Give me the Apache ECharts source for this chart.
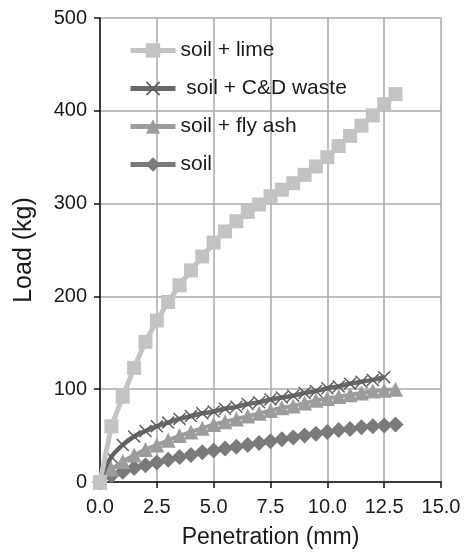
<!DOCTYPE html>
<html>
<head>
<meta charset="utf-8">
<script src="https://cdn.jsdelivr.net/npm/echarts@6/dist/echarts.min.js"></script>
<style>
html,body{margin:0;padding:0;background:#fff;}
#c{width:465px;height:554px;}
</style>
</head>
<body>
<div id="c"></div>
<script>
// Penetration (mm) sample points
const penetration = [0,0.5,1,1.5,2,2.5,3,3.5,4,4.5,5,5.5,6,6.5,7,7.5,8,8.5,9,9.5,10,10.5,11,11.5,12,12.5,13];
const penetrationCD = [0,0.5,1,1.5,2,2.5,3,3.5,4,4.5,5,5.5,6,6.5,7,7.5,8,8.5,9,9.5,10,10.5,11,11.5,12,12.5];
// Loads (kg)
const soilLime = [0,60,92,123,151,174,194,212,228,243,258,270,281,291,299,308,315,322,331,340,350,362,373,384,395,407,418];
const soilCD   = [0,27,40,49,55,60,64,68,71,74,76,79,81,84,86,89,91,93,96,98,101,103,106,108,110,113];
const soilFly  = [0,14,22,29,35,40,45,50,54,58,62,65,68,71,74,77,80,82,85,88,90,92,94,96,98,99,100];
const soilOnly = [0,7,11,15,18,21,24,27,29,32,34,36,38,40,42,44,46,48,50,52,54,56,57,59,60,61,62];
const seriesNames = ['soil + lime', ' soil + C&D waste', 'soil + fly ash', 'soil'];
const xTicks = {min:0, max:15, interval:2.5};
const yTicks = {min:0, max:500, interval:100};

const pair = (xs, ys) => xs.map((x,i)=>[x, ys[i]]);
const crossPath = 'path://M0,0.8L0.8,0L5,4.2L9.2,0L10,0.8L5.8,5L10,9.2L9.2,10L5,5.8L0.8,10L0,9.2L4.2,5Z';
const FONT = '"Liberation Sans", Arial, sans-serif';

const chart = echarts.init(document.getElementById('c'), null, {renderer:'canvas'});
chart.setOption({
  animation:false,
  backgroundColor:'#fff',
  grid:{left:100, right:24, top:18, bottom:72, containLabel:false},
  legend:{
    data:seriesNames,
    orient:'vertical',
    left:123, top:35,
    itemWidth:45, itemHeight:18, itemGap:17,
    lineStyle:{width:5},
    textStyle:{fontFamily:FONT, fontSize:21, color:'#1a1a1a'},
    backgroundColor:'transparent'
  },
  xAxis:{
    type:'value', min:xTicks.min, max:xTicks.max, interval:xTicks.interval,
    name:'Penetration (mm)', nameLocation:'middle', nameGap:44,
    nameTextStyle:{fontFamily:FONT, fontSize:23, color:'#1a1a1a'},
    axisLine:{show:true, lineStyle:{color:'#111', width:1.5}},
    axisTick:{show:true, inside:false, length:6, lineStyle:{color:'#111', width:1.5}},
    axisLabel:{fontFamily:FONT, fontSize:20, color:'#1a1a1a', margin:15, formatter:v=>v.toFixed(1)},
    splitLine:{show:true, lineStyle:{color:'#a8a8a8', width:1.5}}
  },
  yAxis:{
    type:'value', min:yTicks.min, max:yTicks.max, interval:yTicks.interval,
    name:'Load (kg)', nameLocation:'middle', nameGap:63,
    nameTextStyle:{fontFamily:FONT, fontSize:25, color:'#1a1a1a'},
    axisLine:{show:true, lineStyle:{color:'#111', width:1.5}},
    axisTick:{show:true, inside:false, length:6, lineStyle:{color:'#111', width:1.5}},
    axisLabel:{fontFamily:FONT, fontSize:20, color:'#1a1a1a', margin:13},
    splitLine:{show:true, lineStyle:{color:'#a8a8a8', width:1.5}}
  },
  series:[
    {name:seriesNames[3], type:'line', data:pair(penetration, soilOnly),
     symbol:'diamond', symbolSize:[16,16], showAllSymbol:true,
     lineStyle:{color:'#7a7a7a', width:4}, itemStyle:{color:'#7a7a7a'}, z:2},
    {name:seriesNames[2], type:'line', data:pair(penetration, soilFly),
     symbol:'triangle', symbolSize:[15,15], showAllSymbol:true,
     lineStyle:{color:'#9c9c9c', width:4}, itemStyle:{color:'#9c9c9c'}, z:3},
    {name:seriesNames[1], type:'line', data:pair(penetrationCD, soilCD), smooth:0.4,
     symbol:crossPath, symbolSize:13, showAllSymbol:true,
     lineStyle:{color:'#686868', width:4.5}, itemStyle:{color:'#5e5e5e'}, z:4},
    {name:seriesNames[0], type:'line', data:pair(penetration, soilLime),
     symbol:'rect', symbolSize:14, showAllSymbol:true,
     lineStyle:{color:'#c2c4c3', width:5}, itemStyle:{color:'#c2c4c3'}, z:5}
  ]
});
</script>
</body>
</html>
